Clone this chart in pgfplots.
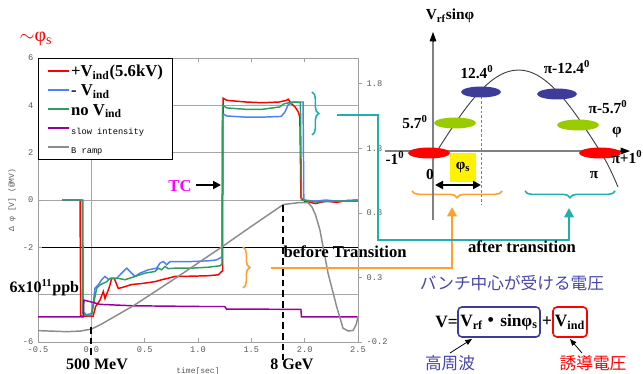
\documentclass[border=0pt]{standalone}
\usepackage{pgfplots}
\pgfplotsset{compat=1.18}
\usepackage{pgfplotstable}
\usepackage{fontspec}
\setmainfont{Liberation Serif}
\setmonofont{Liberation Mono}
\newfontfamily\cjk{Noto Sans CJK JP}
\usetikzlibrary{arrows.meta,decorations.pathreplacing}
\definecolor{cred}{HTML}{FF0000}
\definecolor{cblue}{HTML}{4D80FF}
\definecolor{cgreen}{HTML}{2E9E5E}
\definecolor{cpurple}{HTML}{990099}
\definecolor{cgray}{HTML}{8C8C8C}
\definecolor{cteal}{HTML}{1FAFAF}
\definecolor{corange}{HTML}{FFA02E}
\definecolor{cnavy}{HTML}{3D3D99}
\definecolor{clime}{HTML}{99CC00}
\definecolor{cjp}{HTML}{4646AA}
\definecolor{cmag}{HTML}{FF00FF}

\pgfplotstableread{
x y
-0.275 0
-0.106 0
-0.100 -4.90
0.016 -4.92
0.040 -4.50
0.081 -4.23
0.112 -3.87
0.128 -4.16
0.159 -3.80
0.175 -3.59
0.190 -3.31
0.215 -3.31
0.253 -3.74
0.315 -3.66
0.378 -3.57
0.472 -3.53
0.597 -3.45
0.659 -3.37
0.706 -3.32
0.784 -3.23
0.940 -3.22
1.096 -3.20
1.190 -3.16
1.222 -3.02
1.230 -3.00
1.235 4.30
1.270 4.21
1.450 4.14
1.600 4.11
1.760 4.14
1.830 4.21
1.845 4.26
1.875 4.07
1.910 3.93
1.940 3.72
1.955 3.50
1.965 0.10
2.000 -0.05
2.100 -0.15
2.200 -0.05
2.300 -0.10
2.400 -0.02
2.500 0.00
}\redtab

\pgfplotstableread{
x y
-0.275 0
-0.080 0
-0.075 -4.70
-0.050 -4.85
0.000 -4.80
0.020 -4.30
0.034 -3.73
0.065 -3.59
0.097 -3.37
0.128 -3.23
0.159 -3.35
0.190 -3.31
0.237 -3.31
0.284 -3.09
0.331 -2.88
0.362 -3.02
0.409 -3.23
0.456 -3.09
0.534 -2.95
0.612 -2.88
0.643 -2.67
0.675 -2.60
0.706 -2.74
0.737 -2.60
0.784 -2.60
0.940 -2.60
1.096 -2.57
1.174 -2.53
1.206 -2.45
1.225 -2.40
1.230 3.65
1.270 3.55
1.450 3.50
1.600 3.50
1.780 3.53
1.815 3.72
1.846 4.03
1.900 4.14
1.985 4.14
1.992 0.00
2.100 -0.05
2.200 0.00
2.300 -0.05
2.500 -0.03
}\bluetab

\pgfplotstableread{
x y
-0.275 0
-0.085 0
-0.080 -4.80
-0.030 -4.90
0.003 -4.87
0.028 -4.23
0.050 -3.73
0.081 -3.59
0.112 -3.52
0.144 -3.45
0.175 -3.31
0.215 -3.31
0.253 -3.31
0.315 -3.37
0.409 -3.23
0.503 -3.09
0.597 -3.02
0.628 -2.88
0.659 -2.95
0.690 -2.81
0.722 -2.90
0.784 -2.88
0.940 -2.88
1.096 -2.84
1.206 -2.78
1.225 -2.70
1.230 4.00
1.270 3.89
1.450 3.83
1.600 3.83
1.765 3.93
1.810 4.07
1.890 4.14
1.960 4.12
1.970 0.00
2.100 -0.08
2.300 -0.05
2.500 -0.05
}\greentab

\pgfplotstableread{
x y
-0.500 -4.94
-0.075 -4.94
-0.070 -4.23
0.018 -4.33
0.081 -4.41
0.393 -4.47
1.018 -4.50
1.250 -4.50
1.268 -4.61
1.965 -4.62
1.970 -4.94
2.500 -4.94
}\purpletab

\pgfplotstableread{
x y
-0.500 -0.112
-0.230 -0.120
-0.100 -0.115
0.000 -0.100
0.081 -0.068
0.393 0.080
0.800 0.300
1.230 0.540
1.490 0.690
1.800 0.865
1.950 0.880
2.030 0.880
2.065 0.850
2.100 0.790
2.143 0.668
2.220 0.330
2.300 0.074
2.360 -0.094
2.410 -0.115
2.455 -0.110
2.485 -0.060
2.500 0.000
}\graytab

\newcommand\lstrut{\rule[-4.6pt]{0pt}{15.4pt}}
\newcommand\bigb{\bfseries\fontsize{12.5}{14}\selectfont}
\newcommand\smallm{\ttfamily\fontsize{6.5}{7}\selectfont}

\begin{document}
\begin{tikzpicture}
\begin{axis}[
  at={(0,0)}, anchor=south west,
  scale only axis, width=240pt, height=213pt,
  xmin=-0.5, xmax=2.5, ymin=-6, ymax=6,
  xtick={-0.5,0,0.5,1,1.5,2,2.5},
  ytick={-6,-4,-2,0,2,4,6},
  yticklabels={-6,,-2,0,2,4,6},
  ytick pos=left,
  axis line style={gray!75, line width=0.7pt},
  tick style={gray!75, line width=0.5pt},
  major tick length=3pt,
  tick label style={font=\smallm, text=black!65},
  /pgf/number format/assume math mode=true,
  x tick label style={/pgf/number format/fixed, /pgf/number format/fixed zerofill, /pgf/number format/precision=1},
  ymajorgrids, major grid style={gray!70, line width=0.7pt},
  extra x ticks={0}, extra x tick labels={}, extra x tick style={grid=major, major grid style={gray!70, line width=0.7pt}},
  extra y ticks={-2}, extra y tick labels={}, extra y tick style={grid=major, major grid style={black, line width=0.8pt}},
  xlabel={time[sec]}, ylabel={Δ φ [V] (@MV)},
  label style={font=\ttfamily\fontsize{6}{7}\selectfont, text=black!65},
  xlabel style={at={(axis description cs:0.5,-0.102)}, anchor=center},
  ylabel style={at={(axis description cs:-0.081,0.5)}, anchor=center},
  legend style={at={(0,1)}, anchor=north west, draw=black, line width=0.8pt, fill=white,
    inner xsep=6pt, inner ysep=2pt, row sep=0pt, nodes={inner sep=1pt}},
  legend cell align=left,
  legend image code/.code={\draw[#1, line width=1.5pt] (0pt,0pt) -- (16pt,0pt);},
]
\addplot[cred, line width=1.1pt] table {\redtab};
\addlegendentry{\lstrut\bigb +V\textsubscript{ind}(5.6kV)}
\addplot[cblue, line width=1.1pt] table {\bluetab};
\addlegendentry{\lstrut\bigb - V\textsubscript{ind}}
\addplot[cgreen, line width=1.1pt] table {\greentab};
\addlegendentry{\lstrut\bigb no V\textsubscript{ind}}
\addplot[cpurple, line width=1.1pt] table {\purpletab};
\addlegendentry{\lstrut\smallm slow intensity}
\addlegendimage{cgray}
\addlegendentry{\lstrut\smallm B ramp}
\end{axis}

\begin{axis}[
  at={(0,0)}, anchor=south west,
  scale only axis, width=240pt, height=213pt,
  xmin=-0.5, xmax=2.5, ymin=-0.2, ymax=2.0,
  axis x line=none, axis y line*=right,
  ytick={-0.2,0.3,0.8,1.3,1.8},
  axis line style={gray!75, line width=0.7pt},
  tick style={gray!75, line width=0.5pt},
  major tick length=3pt, tick align=outside,
  tick label style={font=\smallm, text=black!65},
  /pgf/number format/assume math mode=true,
  y tick label style={/pgf/number format/fixed, /pgf/number format/fixed zerofill, /pgf/number format/precision=1},
]
\addplot[cgray, line width=1.1pt] table {\graytab};
\end{axis}

\begin{scope}[x=0.75pt,y=-0.75pt,shift={(-28.5pt,256.5pt)}]
  % left annotations
  \node[text=cred, font=\fontsize{15}{16}\selectfont] at (36,39) {$\sim$φ\textsubscript{s}};
  \node[text=cmag, font=\bigb] at (180,186) {TC};
  \draw[-{Triangle[length=6pt,width=6pt]}, line width=1.5pt] (196,185) -- (221,185);
  \node[font=\bfseries\fontsize{12}{14}\selectfont, anchor=west] at (5,288) {6x10\textsuperscript{11}ppb};
  \draw[line width=1.8pt, dash pattern=on 5pt off 3pt] (91,327) -- (91,355);
  \node[font=\bfseries\fontsize{12}{14}\selectfont] at (97,364) {500 MeV};
  \draw[line width=1.8pt, dash pattern=on 5pt off 3pt] (283,205) -- (283,360);
  \node[font=\bfseries\fontsize{12}{14}\selectfont] at (292,364) {8 GeV};
  \node[font=\bigb, anchor=west] at (279,252) {before Transition};
  % orange connector
  \draw[corange, line width=1.2pt, decorate, decoration={brace, amplitude=5pt}] (243,247) -- (243,288);
  \draw[corange, line width=1.6pt] (271,268) -- (452,268) -- (452,215);
  \draw[corange, -{Triangle[length=7pt,width=7pt]}, line width=1.6pt] (452,222) -- (452,207);
  % teal connector
  \draw[cteal, line width=1.2pt, decorate, decoration={brace, amplitude=5pt}] (312,92) -- (312,135);
  \draw[cteal, line width=1.6pt] (337,115) -- (378,115) -- (378,240) -- (569,240) -- (569,215);
  \draw[cteal, -{Triangle[length=7pt,width=7pt]}, line width=1.6pt] (569,222) -- (569,208);
  % diagram braces
  \draw[corange, line width=1.2pt, decorate, decoration={brace, amplitude=5pt}] (502,191) -- (412,191);
  \draw[cteal, line width=1.2pt, decorate, decoration={brace, amplitude=5pt}] (615,191) -- (525,191);
  % diagram axes
  \draw[gray, line width=1.1pt] (433,220) -- (433,40);
  \draw[-{Triangle[length=7pt,width=5pt]}, line width=0.6pt] (433,42) -- (433,32);
  \draw[gray, line width=1.1pt] (385,151) -- (622,151);
  \draw[-{Triangle[length=7pt,width=5pt]}, line width=0.6pt] (620,151) -- (630,151);
  \draw[gray, line width=0.6pt, dash pattern=on 2pt off 1.5pt] (481,92) -- (481,205);
  % sine curve
  \draw[black!75, line width=0.7pt] (437,151) sin (518.5,70) cos (600,151) .. controls (607,162) and (613,175) .. (618,187);
  % bunches
  \fill[cred] (429,153) ellipse [x radius=21, y radius=5.5];
  \fill[cred] (600,153) ellipse [x radius=21, y radius=5.5];
  \fill[clime] (455,123) ellipse [x radius=21, y radius=5.5];
  \fill[clime] (578,125) ellipse [x radius=21, y radius=5.5];
  \fill[cnavy] (481,92) ellipse [x radius=20, y radius=5.5];
  \fill[cnavy] (557,94) ellipse [x radius=20, y radius=5.5];
  % diagram labels
  \begin{scope}[every node/.style={font=\bfseries\fontsize{11.5}{13}\selectfont, inner sep=0pt}]
  \node at (450,16) {V\textsubscript{rf}sinφ};
  \node at (477,72) {12.4\textsuperscript{0}};
  \node at (567,67) {π-12.4\textsuperscript{0}};
  \node at (415,122) {5.7\textsuperscript{0}};
  \node at (608,107) {π-5.7\textsuperscript{0}};
  \node at (617,133) {φ};
  \node at (395,158) {-1\textsuperscript{0}};
  \node at (430,174) {0};
  \node at (594,175) {π};
  \node at (627,157) {π+1\textsuperscript{0}};
  \node[fill=yellow, minimum width=19.5pt, minimum height=21.75pt] at (463,167.5) {φ\textsubscript{s}};
  \end{scope}
  \draw[{Triangle[length=6pt,width=6pt]}-{Triangle[length=6pt,width=6pt]}, line width=1.5pt] (435,185) -- (481,185);
  % right texts
  \node[font=\bigb] at (522,247) {after transition};
  \node[text=cjp, font=\cjk\fontsize{12.5}{14}\selectfont] at (512,283) {バンチ中心が受ける電圧};
  \node[font=\bfseries\fontsize{13}{14}\selectfont, anchor=east, inner sep=0pt] at (458,322) {V=};
  \node[draw=cnavy, line width=1.2pt, rounded corners=3pt, minimum width=61.5pt, minimum height=22.5pt, inner sep=0pt, font=\bfseries\fontsize{13}{14}\selectfont] at (499,322) {V\textsubscript{rf}{\cjk ・}sinφ\textsubscript{s}};
  \node[font=\bfseries\fontsize{13}{14}\selectfont, inner sep=0pt] at (547,322) {+};
  \node[draw=cred, line width=1.2pt, rounded corners=3pt, minimum width=25.5pt, minimum height=22.5pt, inner sep=0pt, font=\bfseries\fontsize{13}{14}\selectfont] at (570,322) {V\textsubscript{ind}};
  \node[text=cjp, font=\cjk\fontsize{12.5}{14}\selectfont] at (450,363) {高周波};
  \node[text=cred, font=\cjk\fontsize{12.5}{14}\selectfont] at (593,363) {誘導電圧};
  \draw[-{Triangle[length=5pt,width=4pt]}, line width=0.6pt] (450,353) -- (472,339);
  \draw[-{Triangle[length=5pt,width=4pt]}, line width=0.6pt] (582,353) -- (570,339);
  \pgfresetboundingbox
  \path[use as bounding box] (0,0) rectangle (643,374);
\end{scope}
\end{tikzpicture}
\end{document}
